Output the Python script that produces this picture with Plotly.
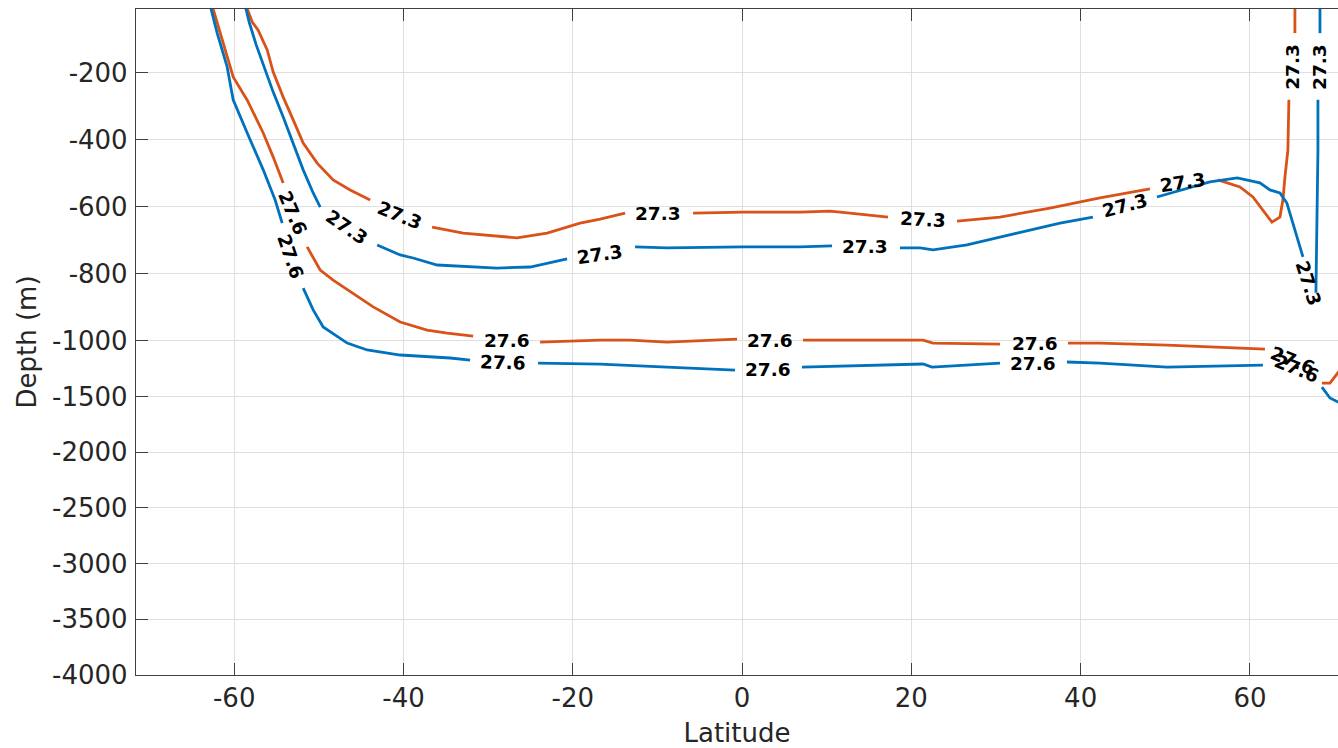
import plotly.graph_objects as go

# ---------------- data (latitude, depth in m) ----------------
# Orange 27.3 isopycnal (None = break where the inline label sits)
o273_lat = [-58.6, -57.87, -57.17, -56.10, -55.39, -54.21, -53.03, -51.85, -50.20, -48.31, -46.30, -43.94, None,
            -36.62, -32.95, -26.58, -23.03, -19.14, -16.77, -13.82, None,
            -5.79, 0.12, 6.85, 10.39, 12.75, 17.24, None,
            25.39, 30.47, 36.37, 42.28, 48.18, None,
            56.22, 58.81, 60.35, 61.53, 62.59, 63.54, 63.89, 64.13, 64.48, 64.60, None,
            65.31, 65.31]
o273_dep = [0, -49, -73, -132, -198, -273, -341, -410, -470, -520, -550, -580, None,
            -661, -679, -693, -679, -649, -637, -619, None,
            -619, -616, -616, -613, -619, -631, None,
            -643, -631, -604, -574, -547, None,
            -520, -541, -571, -610, -646, -631, -580, -512, -431, -281, None,
            -82, 0]

# Blue 27.3 isopycnal
b273_lat = [-58.70, -58.23, -57.40, -56.34, -55.39, -54.21, -53.03, -51.85, -50.67, -49.84, None,
            -43.11, -40.39, -38.86, -36.02, -28.94, -25.04, -20.67, None,
            -12.64, -8.86, 0.12, 6.85, 10.63, None,
            18.66, 21.02, 22.56, 26.57, 32.48, 37.56, 41.45, None,
            49.01, 55.27, 58.5, 61.17, 62.36, 63.54, 64.36, 65.07, 65.90, 66.26, None,
            67.79, 67.91, 68.03, 68.03, None,
            68.27, 68.27]
b273_dep = [0, -49, -117, -192, -258, -332, -410, -490, -559, -601, None,
            -714, -744, -753, -774, -783, -780, -756, None,
            -720, -723, -720, -720, -717, None,
            -723, -723, -729, -714, -679, -649, -631, None,
            -571, -526, -514, -529, -550, -559, -589, -649, -720, -750, None,
            -857, -679, -431, -281, None,
            -82, 0]

# Orange 27.6 isopycnal
o276_lat = [-62.60, -61.65, -60.12, -58.46, -56.57, -55.39, -54.21, None,
            -51.38, -49.84, -48.31, -45.95, -43.58, -40.39, -37.21, -34.84, -31.77, None,
            -23.86, -16.77, -13.23, -8.86, -0.59, None,
            7.20, 21.37, 22.56, 30.47, None,
            38.50, 42.28, 50.19, 61.77, None,
            68.50, 69.45, 70.63]
o276_dep = [0, -82, -213, -282, -380, -452, -529, None,
            -720, -789, -819, -858, -899, -944, -968, -977, -986, None,
            -1012, -998, -998, -1012, -995, None,
            -998, -998, -1021, -1030, None,
            -1021, -1021, -1039, -1075, None,
            -1380, -1380, -1263]

# Blue 27.6 isopycnal
b276_lat = [-62.83, -62.01, -60.83, -60.12, -58.46, -56.57, -55.16, -54.33, None,
            -51.85, -50.67, -49.49, -46.65, -44.29, -40.39, -34.49, -32.13, None,
            -24.10, -16.77, -8.86, -0.83, None,
            7.08, 21.37, 22.44, 30.47, None,
            38.38, 42.28, 50.19, 61.53, None,
            68.50, 69.45, 70.39, 71.2]
b276_dep = [0, -82, -183, -281, -380, -490, -580, -649, None,
            -843, -908, -959, -1021, -1083, -1128, -1155, -1173, None,
            -1200, -1209, -1236, -1263, None,
            -1236, -1209, -1236, -1200, None,
            -1191, -1200, -1236, -1218, None,
            -1416, -1514, -1550, -1559]

# Inline contour labels: (lat, depth, angle in degrees on screen)
o273_lab_lat = [-40.39, -9.92, 21.37, 52.08, 65.07]
o273_lab_dep = [-625, -619, -637, -529, -183]
o273_lab_ang = [22, 0, 3, -8, -90]

b273_lab_lat = [-46.65, -16.77, 14.53, 45.23, 66.9, 68.27]
b273_lab_dep = [-661, -744, -720, -595, -830, -183]
b273_lab_ang = [34, -8, 0, -15, 72, -90]

o276_lab_lat = [-53.03, -27.76, 3.30, 34.60, 65.07]
o276_lab_dep = [-619, -998, -998, -1021, -1173]
o276_lab_ang = [67, 0, 0, 0, 22]

b276_lab_lat = [-53.39, -28.23, 3.07, 34.37, 65.55]
b276_lab_dep = [-750, -1191, -1254, -1200, -1245]
b276_lab_ang = [71, 2, 0, 0, 22]

y_ticks = [-200, -400, -600, -800, -1000, -1500, -2000, -2500, -3000, -3500, -4000]
x_ticks = [-60, -40, -20, 0, 20, 40, 60]

# ---------------- depth axis: stretched above -1000 m ----------------
K = 0.3325  # relative scale of the deep part


def warp(d):
    if d is None:
        return None
    return d if d >= -1000 else -1000 + (d + 1000) * K


BLUE = "#0072BD"
ORANGE = "#D95319"
FONT = "DejaVu Sans"
AX = "#262626"

fig = go.Figure()
for lat, dep, col in [(o273_lat, o273_dep, ORANGE), (b273_lat, b273_dep, BLUE),
                      (o276_lat, o276_dep, ORANGE), (b276_lat, b276_dep, BLUE)]:
    fig.add_trace(go.Scatter(x=lat, y=[warp(d) for d in dep], mode="lines",
                             line=dict(color=col, width=2.8), connectgaps=False,
                             showlegend=False, hoverinfo="skip"))

annotations = []
for la, de, an, txt in [(o273_lab_lat, o273_lab_dep, o273_lab_ang, "27.3"),
                        (b273_lab_lat, b273_lab_dep, b273_lab_ang, "27.3"),
                        (o276_lab_lat, o276_lab_dep, o276_lab_ang, "27.6"),
                        (b276_lab_lat, b276_lab_dep, b276_lab_ang, "27.6")]:
    for x, d, a in zip(la, de, an):
        annotations.append(dict(x=x, y=warp(d), xref="x", yref="y", text=txt, showarrow=False,
                                textangle=a, font=dict(family=FONT, size=18.5, color="black",
                                                       weight="bold")))

fig.update_layout(
    width=1338, height=748,
    margin=dict(l=136, r=0, t=9, b=73),
    paper_bgcolor="white", plot_bgcolor="white",
    font=dict(family=FONT, size=26, color=AX),
    annotations=annotations,
)
fig.update_xaxes(
    range=[-71.6, 70.4], tickvals=x_ticks, ticktext=[str(v) for v in x_ticks],
    showgrid=True, gridcolor="#dfdfdf", gridwidth=1, zeroline=False,
    showline=True, linecolor="#404040", linewidth=1.3, mirror="ticks",
    ticks="inside", ticklen=12, tickcolor="#404040", tickwidth=1.3,
    ticklabelstandoff=0, automargin=False,
    title=dict(text="Latitude", font=dict(family=FONT, size=26, color=AX), standoff=12),
)
fig.update_yaxes(
    range=[-1000 - 3000 * K, -10], tickvals=[warp(v) for v in y_ticks],
    ticktext=[str(v) for v in y_ticks],
    showgrid=True, gridcolor="#dfdfdf", gridwidth=1, zeroline=False,
    showline=True, linecolor="#404040", linewidth=1.3, mirror=False,
    ticks="inside", ticklen=12, tickcolor="#404040", tickwidth=1.3,
    ticklabelstandoff=2, automargin=False,
    title=dict(text="Depth (m)", font=dict(family=FONT, size=26, color=AX), standoff=7),
)

fig.write_html("out.html", config={"displayModeBar": False},
               post_script="document.body.style.margin='0';document.body.style.overflow='hidden';")
